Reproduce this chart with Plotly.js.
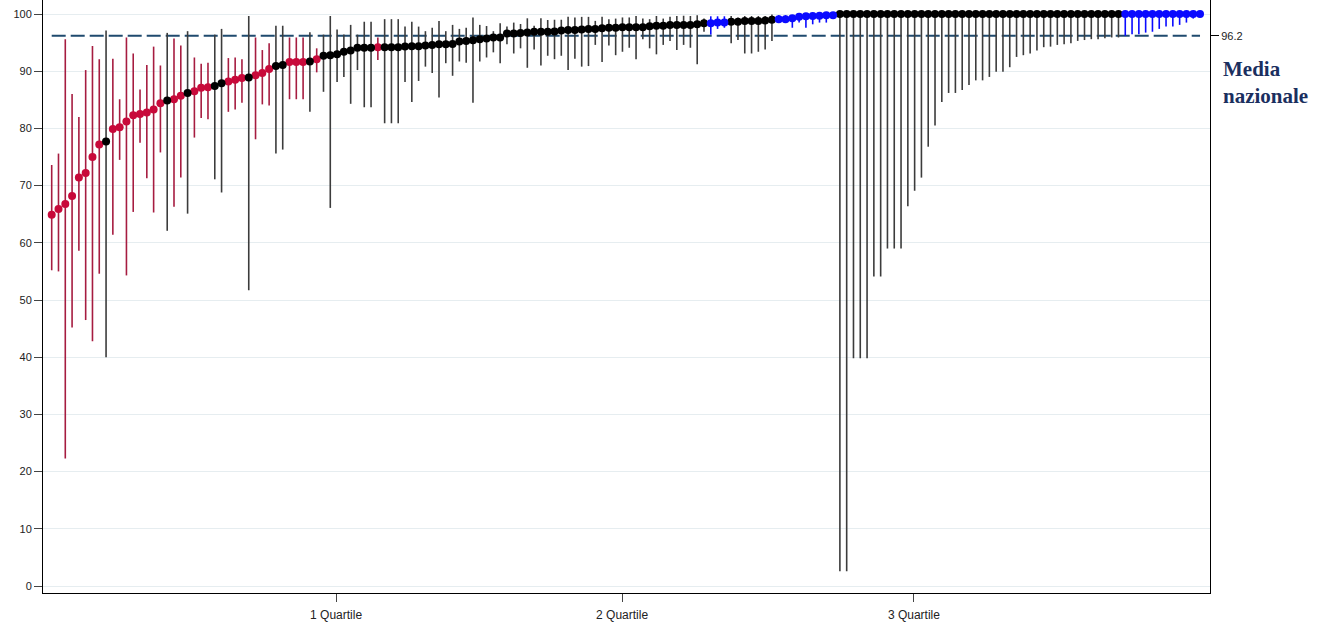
<!DOCTYPE html>
<html>
<head>
<meta charset="utf-8">
<script src="https://cdn.plot.ly/plotly-3.0.1.min.js"></script>
<style>html,body{margin:0;padding:0;background:#fff;}#chart{width:1325px;height:623px;}</style>
</head>
<body>
<div id="chart"></div>
<script>
// Point estimates (sorted), upper and lower interval bounds, colour group
const values = [
64.9,65.9,66.8,68.2,71.4,72.2,75.0,77.2,77.7,79.9,
80.2,81.2,82.3,82.5,82.8,83.3,84.4,84.9,85.1,85.7,
86.2,86.5,87.1,87.2,87.4,87.9,88.2,88.5,88.8,88.9,
89.3,89.7,90.4,90.9,91.1,91.6,91.6,91.6,91.7,92.1,
92.7,92.8,92.95,93.4,93.6,94.1,94.1,94.1,94.2,94.2,
94.2,94.2,94.3,94.35,94.35,94.5,94.6,94.7,94.7,94.75,
95.2,95.3,95.4,95.6,95.7,95.9,95.9,96.6,96.6,96.7,
96.75,96.9,96.9,96.9,96.95,97.1,97.2,97.2,97.3,97.4,
97.4,97.5,97.6,97.6,97.7,97.7,97.7,97.7,97.85,97.95,
97.95,98.1,98.1,98.1,98.1,98.2,98.4,98.4,98.5,98.5,
98.65,98.65,98.8,98.8,98.8,98.85,99.0,99.1,99.1,99.25,
99.5,99.6,99.65,99.7,99.8,99.8,
100,100,100,100,100,100,100,100,100,100,
100,100,100,100,100,100,100,100,100,100,
100,100,100,100,100,100,100,100,100,100,
100,100,100,100,100,100,100,100,100,100,
100,100,
100,100,100,100,100,100,100,100,100,100,100,100
];
const upper = [
73.6,75.6,95.6,86.0,82.0,90.2,94.4,92.1,97.1,92.2,
85.1,95.9,93.1,86.8,91.1,94.3,91.0,96.7,95.7,94.5,
97.0,92.4,91.3,91.5,96.4,97.4,92.3,92.4,92.1,99.65,
95.9,93.7,94.9,97.95,97.95,95.9,95.9,95.9,96.8,94.0,
96.4,99.65,97.3,96.4,98.1,96.4,98.65,98.65,95.9,99.1,
99.1,99.1,97.8,98.65,97.8,97.0,97.6,98.8,97.0,98.1,
97.4,97.6,99.4,98.1,97.9,97.0,98.4,97.8,98.5,98.25,
99.25,97.95,99.25,98.95,99.0,99.0,99.5,99.4,99.5,99.5,
98.8,99.5,99.1,99.2,99.4,99.4,99.65,99.2,99.1,99.65,
99.2,99.5,99.65,99.7,99.65,99.8,99.2,99.6,99.6,99.6,
99.65,99.4,99.65,99.65,99.65,99.65,99.9,99.8,99.8,99.8,
99.9,99.9,99.95,99.95,100,100,
100,100,100,100,100,100,100,100,100,100,
100,100,100,100,100,100,100,100,100,100,
100,100,100,100,100,100,100,100,100,100,
100,100,100,100,100,100,100,100,100,100,
100,100,
100,100,100,100,100,100,100,100,100,100,100,100
];
const lower = [
55.2,55.0,22.3,45.2,58.6,46.5,42.8,54.6,40.0,61.4,
74.5,54.3,65.4,77.5,71.3,65.3,75.8,62.1,66.3,71.4,
65.1,78.4,81.8,81.6,71.1,68.8,82.9,83.3,84.5,51.7,
78.1,84.2,84.0,75.6,76.3,85.1,85.1,85.1,82.9,89.8,
86.4,66.1,88.1,89.0,84.3,90.2,83.7,83.7,91.96,80.9,
80.9,80.9,88.1,84.6,88.3,90.8,89.7,85.4,91.4,89.2,
91.7,91.5,84.5,91.7,92.4,93.3,91.4,94.7,93.1,94.0,
90.6,93.8,91.0,92.7,92.1,92.7,90.2,92.2,90.8,90.9,
94.6,91.6,94.5,92.8,93.4,94.1,92.1,95.6,94.0,92.95,
94.6,95.3,93.7,94.6,94.1,91.2,96.9,96.4,97.4,97.6,
94.9,95.45,93.1,93.1,93.4,93.8,95.3,98.5,98.8,97.6,
98.5,97.6,98.2,98.5,98.5,99.2,
2.6,2.6,39.8,39.8,39.8,54.1,54.1,59.0,59.0,59.0,
66.4,69.1,71.4,76.8,80.5,84.6,86.2,86.2,86.7,87.6,
88.4,88.4,89.0,89.9,89.9,90.7,92.5,92.8,93.1,93.6,
94.2,94.3,94.6,94.7,94.9,95.3,95.45,95.6,95.6,95.75,
95.9,95.9,
96.2,96.45,96.45,96.75,96.9,97.4,97.8,97.8,98.1,98.5,99.2,99.8
];
// r = significantly below, k = not different, b = significantly above
const groups = (
"rrrrrrrrkr" + "rrrrrrrkrr" + "krrrkkrrrk" + "rrrkkrrrkr" +
"kkkkkkkkrk" + "kkkkkkkkkk" + "kkkkkkkkkk" + "kkkkkkkkkk" +
"kkkkkkkkkk" + "kkkkkkkbbb" + "kkkkkkkbbb" + "bbbbbb" +
"kkkkkkkkkk" + "kkkkkkkkkk" + "kkkkkkkkkk" + "kkkkkkkkkk" + "kk" +
"bbbbbbbbbbbb"
).split("");
const nationalMean = 96.2;
const quartileTickPos = [42.85, 84.95, 127.9];
const quartileTickText = ["1 Quartile", "2 Quartile", "3 Quartile"];
const yTicks = [0,10,20,30,40,50,60,70,80,90,100];

const N = values.length;
const xs = values.map((v, i) => i + 1);

const styles = {
  r: {dot: "#c8093a", bar: "#a61c40"},
  k: {dot: "#000000", bar: "#3c3c3c"},
  b: {dot: "#0a0aff", bar: "#0a0aff"}
};

const traces = [];
["r", "k", "b"].forEach(g => {
  const idx = [];
  groups.forEach((c, i) => { if (c === g) idx.push(i); });
  traces.push({
    type: "scatter",
    mode: "markers",
    x: idx.map(i => xs[i]),
    y: idx.map(i => values[i]),
    marker: {color: styles[g].dot, size: 8},
    error_y: {
      type: "data",
      symmetric: false,
      array: idx.map(i => Math.max(0, upper[i] - values[i])),
      arrayminus: idx.map(i => Math.max(0, values[i] - lower[i])),
      color: styles[g].bar,
      thickness: 1.6,
      width: 0
    },
    showlegend: false,
    hoverinfo: "x+y"
  });
});
// invisible trace to activate the right-hand axis
traces.push({
  type: "scatter", mode: "markers", x: [1], y: [nationalMean], yaxis: "y2",
  marker: {opacity: 0}, showlegend: false, hoverinfo: "skip"
});

const yRange = [-1.22, 102.45];
const layout = {
  width: 1325, height: 623,
  margin: {l: 43, r: 115, t: 0, b: 30},
  paper_bgcolor: "#ffffff",
  plot_bgcolor: "#ffffff",
  font: {family: "Arial, 'Liberation Sans', sans-serif", size: 11, color: "#222"},
  xaxis: {
    range: [-0.28, 171.47],
    tickvals: quartileTickPos,
    ticktext: quartileTickText,
    ticks: "outside", ticklen: 8, tickcolor: "#444",
    ticklabelstandoff: 3,
    showline: true, linecolor: "#000", linewidth: 1,
    showgrid: false, zeroline: false,
    tickfont: {size: 12, color: "#222"}
  },
  yaxis: {
    range: yRange,
    tickvals: yTicks,
    ticks: "outside", ticklen: 8, tickcolor: "#444",
    showline: true, linecolor: "#000", linewidth: 1,
    gridcolor: "#e6edf0", gridwidth: 1,
    zeroline: false,
    tickfont: {size: 11, color: "#222"}
  },
  yaxis2: {
    range: yRange,
    overlaying: "y", side: "right",
    tickvals: [nationalMean], ticktext: [String(nationalMean)],
    ticks: "outside", ticklen: 8, tickcolor: "#000",
    showline: true, linecolor: "#000", linewidth: 1,
    showgrid: false, zeroline: false,
    tickfont: {size: 11, color: "#222"}
  },
  shapes: [{
    type: "line", xref: "x", yref: "y", layer: "below",
    x0: 1, x1: N, y0: nationalMean, y1: nationalMean,
    line: {color: "#1f4a6e", width: 2, dash: "14px,5px"}
  }],
  annotations: [{
    xref: "paper", yref: "y", x: 1.009, y: 88.1,
    xanchor: "left", yanchor: "middle", align: "left",
    text: "<b>Media<br>nazionale</b>", showarrow: false,
    font: {family: "'Times New Roman', 'Liberation Serif', serif", size: 21, color: "#1b2f5f"}
  }]
};

Plotly.newPlot("chart", traces, layout, {displayModeBar: false, staticPlot: true});
</script>
</body>
</html>
